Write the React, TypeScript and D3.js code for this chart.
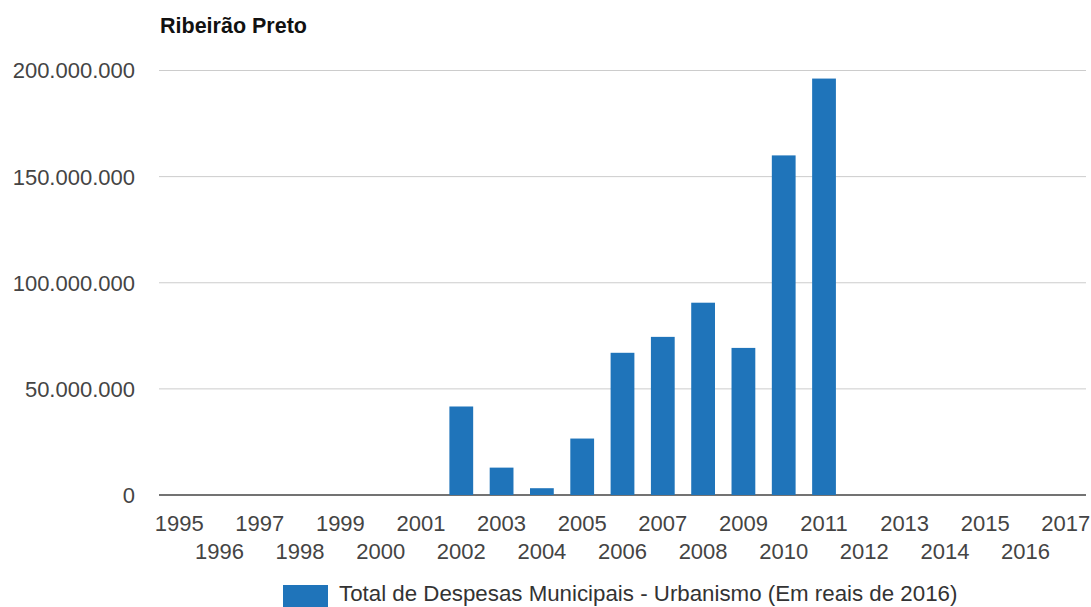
import * as d3 from 'd3'

const years = ['1995', '1996', '1997', '1998', '1999', '2000', '2001', '2002', '2003', '2004', '2005', '2006',
  '2007', '2008', '2009', '2010', '2011', '2012', '2013', '2014', '2015', '2016', '2017']
// Total de Despesas Municipais - Urbanismo (reais de 2016)
const despesas = [0, 0, 0, 0, 0, 0, 0, 41700000, 12900000, 3200000, 26600000, 67000000,
  74500000, 90600000, 69300000, 160000000, 196200000, 0, 0, 0, 0, 0, 0]
const yTicks = [0, 50000000, 100000000, 150000000, 200000000]
const title = 'Ribeirão Preto'
const seriesName = 'Total de Despesas Municipais - Urbanismo (Em reais de 2016)'

const width = 1091
const height = 607
const color = '#1f74ba'
const font = '"Liberation Sans", Arial, sans-serif'

const fmt = (v: number) => d3.format(',')(v).replace(/,/g, '.')

export default function App() {
  const x = d3.scaleBand().domain(years).range([159, 1086]).paddingInner(0.41).paddingOuter(0.205)
  const y = d3.scaleLinear().domain([0, 200000000]).range([495, 70.5])

  return (
    <svg width={width} height={height} style={{ position: 'absolute', left: 0, top: 0 }}>
      <rect width={width} height={height} fill="#fff" />
      <text x={160} y={33} fontFamily={font} fontSize={21.5} fontWeight="bold" fill="#111">{title}</text>

      {yTicks.map(t => (
        <g key={t}>
          <line x1={159} x2={1086} y1={y(t)} y2={y(t)} stroke={t === 0 ? '#444' : '#ccc'} strokeWidth={t === 0 ? 1.5 : 1} />
          <text x={135} y={y(t)} dy="0.36em" textAnchor="end" fontFamily={font} fontSize={22} fill="#444">{fmt(t)}</text>
        </g>
      ))}

      {years.map((yr, i) => despesas[i] > 0 && (
        <rect key={yr} x={x(yr)} width={x.bandwidth()} y={y(despesas[i])} height={y(0) - y(despesas[i])} fill={color} />
      ))}

      {years.map((yr, i) => (
        <text key={yr} x={(x(yr) ?? 0) + x.bandwidth() / 2} y={i % 2 === 0 ? 531 : 559} textAnchor="middle"
          fontFamily={font} fontSize={22} fill="#444">{yr}</text>
      ))}

      <rect x={283} y={585} width={45} height={22} fill={color} />
      <text x={339} y={601} fontFamily={font} fontSize={22.3} fill="#333">{seriesName}</text>
    </svg>
  )
}
